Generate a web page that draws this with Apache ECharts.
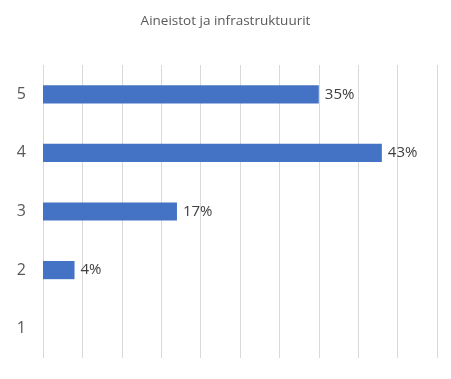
<!DOCTYPE html>
<html><head><meta charset="utf-8">
<script src="https://cdn.jsdelivr.net/npm/echarts@6/dist/echarts.min.js"></script>
<style>html,body{margin:0;padding:0;background:#fff}#c{width:451px;height:379px}</style>
</head><body><div id="c"></div>
<script>
const titleText = 'Aineistot ja infrastruktuurit';
const categories = ['1', '2', '3', '4', '5'];
const values = [0, 4, 17, 43, 35];
const axisMax = 50;
const axisInterval = 5;

const chart = echarts.init(document.getElementById('c'), null, {renderer: 'canvas'});
chart.setOption({
  animation: false,
  title: {
    text: titleText, left: 'center', top: 9,
    textStyle: {fontFamily: 'Open Sans', fontSize: 13.5, fontWeight: 'normal', color: '#595959'}
  },
  grid: {left: 43, right: 14, top: 65, bottom: 21, containLabel: false},
  xAxis: {
    type: 'value', min: 0, max: axisMax, interval: axisInterval,
    axisLabel: {show: false}, axisLine: {show: false}, axisTick: {show: false},
    splitLine: {show: true, lineStyle: {color: '#d9d9d9', width: 1}}
  },
  yAxis: {
    type: 'category', data: categories,
    axisLine: {show: false}, axisTick: {show: false},
    axisLabel: {fontFamily: 'Open Sans', fontSize: 16, color: '#595959', margin: 17}
  },
  series: [{
    type: 'bar', data: values.map(v => v === 0 ? null : v), barWidth: '31%',
    itemStyle: {color: '#4472c4'},
    label: {show: true, position: 'right', distance: 6, formatter: p => p.value + '%',
      fontFamily: 'Open Sans', fontSize: 15, color: '#404040'}
  }]
});
</script></body></html>
